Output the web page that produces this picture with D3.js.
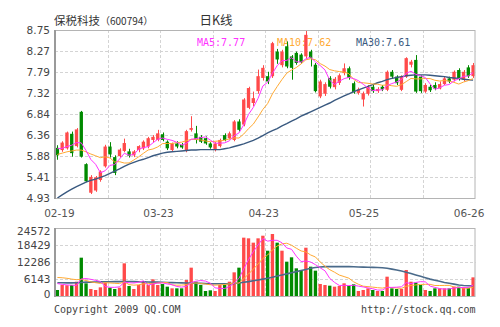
<!DOCTYPE html>
<html><head><meta charset="utf-8">
<script src="https://cdn.jsdelivr.net/npm/d3@7"></script>
<style>body{margin:0;background:#fff}svg{display:block}</style>
</head><body><svg id="c" width="500" height="327"></svg>
<script>
const dates = ["02-19","02-20","02-23","02-24","02-25","02-26","02-27",
"03-02","03-03","03-04","03-05","03-06","03-09","03-10","03-11","03-12","03-13","03-16","03-17","03-18","03-19","03-20",
"03-23","03-24","03-25","03-26","03-27","03-30","03-31",
"04-01","04-02","04-03","04-07","04-08","04-09","04-10","04-13","04-14","04-15","04-16","04-17","04-20","04-21","04-22","04-23","04-24","04-27","04-28","04-29","04-30",
"05-04","05-05","05-06","05-07","05-08","05-11","05-12","05-13","05-14","05-15","05-18","05-19","05-20","05-21","05-22","05-25","05-26","05-27",
"06-01","06-02","06-03","06-04","06-05","06-08","06-09","06-10","06-11","06-12","06-15","06-16","06-17","06-18","06-19","06-22","06-23","06-24","06-25","06-26"];
const xLabels = ["02-19","03-23","04-23","05-25","06-26"];
const open  = [6.07,6.02,6.06,6.39,6.11,6.89,5.70,5.05,5.10,5.34,5.65,6.10,5.86,5.88,6.00,5.99,5.90,6.02,6.06,6.10,6.25,6.25,6.38,6.21,6.02,6.17,6.14,6.00,6.48,6.40,6.32,6.29,6.17,6.02,6.11,6.36,6.29,6.25,6.67,6.60,6.98,7.09,7.36,7.66,7.70,7.70,8.26,7.95,8.38,8.15,8.23,8.19,8.15,8.26,7.96,7.24,7.30,7.66,7.45,7.55,7.77,7.88,7.54,7.32,7.17,7.30,7.46,7.36,7.46,7.39,7.80,7.69,7.39,7.69,7.96,8.07,7.69,7.35,7.46,7.50,7.42,7.52,7.65,7.62,7.84,7.62,7.90,7.70];
const high  = [6.13,6.22,6.44,6.44,6.52,6.91,5.72,5.45,5.43,5.56,6.14,6.20,5.90,6.06,6.28,6.05,6.02,6.13,6.24,6.32,6.36,6.48,6.42,6.24,6.19,6.22,6.18,6.48,6.79,6.57,6.36,6.33,6.20,6.20,6.28,6.40,6.44,6.70,6.72,7.20,7.46,7.35,7.85,7.95,7.80,8.48,8.32,8.30,8.49,8.18,8.26,8.22,8.75,8.30,8.00,7.62,7.56,7.70,7.68,7.76,7.99,7.92,7.58,7.44,7.35,7.50,7.50,7.45,7.50,7.83,7.84,7.72,7.72,8.13,8.07,8.18,7.72,7.54,7.50,7.56,7.58,7.69,7.69,7.83,7.88,7.84,7.95,8.00];
const low   = [5.80,5.98,6.03,5.87,6.08,5.85,5.29,5.02,5.07,5.30,5.62,5.85,5.45,5.85,5.97,5.85,5.86,5.97,6.02,6.06,6.20,6.22,6.22,6.02,5.99,6.06,6.05,5.97,6.44,6.17,6.18,6.14,6.05,5.99,6.08,6.22,6.26,6.22,6.44,6.56,6.95,7.02,7.30,7.60,7.52,7.66,7.98,7.90,7.88,7.62,7.96,7.98,8.10,7.92,7.33,7.20,7.25,7.42,7.40,7.50,7.72,7.62,7.30,7.28,7.01,7.26,7.32,7.32,7.36,7.36,7.64,7.50,7.36,7.66,7.90,7.32,7.32,7.32,7.34,7.38,7.40,7.50,7.54,7.58,7.60,7.58,7.66,7.66];
const close = [5.90,6.19,6.42,5.95,6.49,5.87,5.31,5.41,5.40,5.53,6.10,5.92,5.50,6.03,6.18,5.89,5.99,6.11,6.21,6.29,6.32,6.40,6.25,6.06,6.17,6.10,6.08,6.45,6.52,6.25,6.21,6.17,6.08,6.17,6.25,6.25,6.40,6.67,6.48,7.17,7.43,7.20,7.70,7.89,7.58,8.45,8.08,8.26,7.92,7.89,8.00,8.02,8.64,8.11,7.36,7.58,7.52,7.46,7.64,7.72,7.88,7.66,7.33,7.40,7.31,7.46,7.36,7.41,7.40,7.80,7.69,7.54,7.69,8.11,8.03,7.35,7.36,7.50,7.38,7.42,7.52,7.65,7.58,7.80,7.65,7.80,7.70,7.95];
const volume = [2170,3970,3900,4000,5170,13850,4580,2530,2170,3130,4820,3010,2530,3010,11800,3610,2530,3970,5420,3970,6020,3970,4330,3370,2770,2770,2770,5780,10240,5170,3970,1810,2050,1810,3970,3970,5170,8550,10240,21080,20840,19270,20840,21790,16370,22400,19270,16370,12400,13980,10000,9400,17450,10600,9160,4340,3970,3730,3370,3610,4580,3610,4220,1810,2170,2770,2170,1810,1810,6980,2770,2530,2530,9400,5170,4820,3970,2170,1810,2770,2770,2770,2770,3370,3370,3130,3000,6740];
// moving-average values read from the chart where earlier data are not shown
const ma5Head = [6.05,6.06,6.10,6.13];
const ma10Head = [5.92,5.95,5.98,6.00,6.02,6.02,5.98,5.93,5.89];
const ma30 = [4.93,5.00,5.07,5.13,5.19,5.24,5.29,5.33,5.36,5.40,5.44,5.49,5.54,5.59,5.65,5.70,5.74,5.78,5.81,5.85,5.89,5.92,5.95,5.97,5.98,5.99,6.00,6.01,6.02,6.02,6.03,6.03,6.03,6.03,6.03,6.05,6.07,6.10,6.13,6.16,6.20,6.24,6.29,6.35,6.41,6.46,6.51,6.57,6.62,6.68,6.73,6.79,6.84,6.89,6.94,6.99,7.04,7.09,7.15,7.20,7.25,7.30,7.35,7.39,7.43,7.47,7.51,7.55,7.58,7.62,7.65,7.67,7.69,7.71,7.72,7.73,7.73,7.73,7.72,7.71,7.70,7.69,7.67,7.66,7.65,7.63,7.62,7.61];
const volMa5Head = [4500,4200,4000,3900];
const volMa10Head = [6700,6600,6400,6100,5900,6000,5600,5100,4800];
const volMa30 = [4800,4800,4750,4750,4800,4900,5000,5000,5050,5100,5150,5150,5200,5200,5250,5250,5200,5150,5100,5050,5000,5000,4950,4900,4850,4800,4750,4700,4650,4600,4550,4500,4450,4400,4400,4400,4450,4550,4700,4950,5200,5500,5800,6100,6400,6800,7200,7600,8000,8400,8800,9200,9600,10000,10300,10500,10600,10600,10600,10600,10600,10600,10550,10500,10450,10400,10350,10300,10200,10000,9700,9400,9000,8600,8100,7600,7100,6600,6100,5700,5300,4900,4600,4300,4000,3800,3700,3600];
const priceTicks = [4.93,5.41,5.88,6.36,6.84,7.32,7.79,8.27,8.75];
const volTicks = [0,6143,12286,18429,24572];
const legend = [{t:"MA5:7.77",c:"#ff33ff"},{t:"MA10:7.62",c:"#ffaa33"},{t:"MA30:7.61",c:"#3a5a80"}];

function movingAvg(arr, n, head){
  return arr.map((v,i)=> i < n-1 ? head[i] : d3.mean(arr.slice(i-n+1,i+1)));
}
const ma5 = movingAvg(close,5,ma5Head), ma10 = movingAvg(close,10,ma10Head);
const vma5 = movingAvg(volume,5,volMa5Head), vma10 = movingAvg(volume,10,volMa10Head);

const n = close.length;
const L=55, R=475.5, pT=30, pB=198, vT=228, vB=296;
const RED="#ff4a4a", GREEN="#008a00", GRID="#d4d4d4", FRAME="#b4b4b4";
const svg = d3.select("#c");
const x = d3.scaleBand().domain(d3.range(n)).range([L,R]).paddingInner(0.3).paddingOuter(0.15);
const cx = i => x(i)+x.bandwidth()/2;
const gx = d3.scaleLinear().domain([0,8]).range([L,R]);
const y = d3.scaleLinear().domain([4.93,8.75]).range([pB,pT]);
const yv = d3.scaleLinear().domain([0,24572]).range([vB,vT]);
const sans = "'DejaVu Sans', Verdana, sans-serif";
const mono = "'DejaVu Sans Mono', 'Liberation Mono', monospace";
const cjk = "'Noto Sans CJK SC', sans-serif";

// title
const t = svg.append("text").attr("x",54).attr("y",25).attr("fill","#333").attr("font-family",cjk);
t.append("tspan").attr("font-size",11.5).text("保税科技");
t.append("tspan").attr("font-size",10).text("（600794）");
svg.append("text").attr("x",216).attr("y",25).attr("text-anchor","middle").attr("font-family",cjk)
  .attr("font-size",12.5).attr("fill","#333").text("日K线");

function grid(top,bottom,ticks,scale){
  const g = svg.append("g").attr("stroke",GRID).attr("stroke-dasharray","3,2").attr("stroke-width",1);
  g.selectAll("line.h").data(ticks.slice(1,-1)).join("line")
    .attr("x1",L).attr("x2",R).attr("y1",d=>Math.round(scale(d))+0.5).attr("y2",d=>Math.round(scale(d))+0.5);
  g.selectAll("line.v").data(d3.range(1,8)).join("line")
    .attr("y1",top).attr("y2",bottom).attr("x1",d=>Math.round(gx(d))+0.5).attr("x2",d=>Math.round(gx(d))+0.5);
}
grid(pT,pB,priceTicks,y);
grid(vT,vB,volTicks,yv);

// legend
svg.selectAll("text.lg").data(legend).join("text")
  .attr("x",(d,i)=>[197,277,356][i]).attr("y",45.5).attr("font-family",mono).attr("font-size",10)
  .attr("fill",d=>d.c).text(d=>d.t);

// candles
const idx = d3.range(n);
const up = i => close[i] >= open[i];
const cg = svg.append("g");
cg.selectAll("line").data(idx).join("line")
  .attr("x1",i=>Math.round(cx(i))+0.5).attr("x2",i=>Math.round(cx(i))+0.5)
  .attr("y1",i=>y(high[i])).attr("y2",i=>y(low[i]))
  .attr("stroke",i=>up(i)?RED:GREEN).attr("stroke-width",1);
cg.selectAll("rect").data(idx).join("rect")
  .attr("x",i=>x(i)).attr("width",x.bandwidth())
  .attr("y",i=>y(Math.max(open[i],close[i])))
  .attr("height",i=>Math.max(1,Math.abs(y(open[i])-y(close[i]))))
  .attr("fill",i=>up(i)?RED:GREEN);

// price MA lines
svg.append("clipPath").attr("id","cp").append("rect").attr("x",L).attr("y",pT).attr("width",R-L).attr("height",pB-pT);
const pline = d3.line().x((d,i)=>cx(i)).y(d=>y(d));
const pg = svg.append("g").attr("clip-path","url(#cp)").attr("fill","none");
[[ma30,"#3a5a80",1.4],[ma10,"#ffaa33",1],[ma5,"#ff33ff",1]].forEach(([d,c,w])=>
  pg.append("path").attr("d",pline(d)).attr("stroke",c).attr("stroke-width",w));

// volume bars
svg.append("g").selectAll("rect").data(idx).join("rect")
  .attr("x",i=>x(i)).attr("width",x.bandwidth())
  .attr("y",i=>yv(volume[i])).attr("height",i=>vB-yv(volume[i]))
  .attr("fill",i=>up(i)?RED:GREEN);
const vline = d3.line().x((d,i)=>cx(i)).y(d=>yv(d));
const vg = svg.append("g").attr("fill","none");
[[volMa30,"#4a6a8a",1.6],[vma10,"#ffaa33",1],[vma5,"#ff33ff",1]].forEach(([d,c,w])=>
  vg.append("path").attr("d",vline(d)).attr("stroke",c).attr("stroke-width",w));

// frames
[[pT,pB],[vT,vB]].forEach(([a,b])=>{
  svg.append("rect").attr("x",L+0.5).attr("y",a+0.5).attr("width",R-L-1).attr("height",b-a)
    .attr("fill","none").attr("stroke",FRAME);
  svg.append("line").attr("x1",L).attr("x2",L).attr("y1",a).attr("y2",b+1).attr("stroke","#9a9a9a").attr("stroke-width",2);
});

// axis labels
svg.selectAll("text.py").data(priceTicks).join("text")
  .attr("x",50).attr("y",d=>y(d)+4).attr("text-anchor","end")
  .attr("font-family",sans).attr("font-size",10.5).attr("fill","#444").text(d=>d.toFixed(2));
svg.selectAll("text.vy").data(volTicks).join("text")
  .attr("x",50.5).attr("y",d=>Math.min(vB-2,Math.max(vT+3,yv(d)))+4).attr("text-anchor","end")
  .attr("font-family",sans).attr("font-size",10.5).attr("fill","#444").text(d=>d);
svg.selectAll("text.xl").data(xLabels).join("text")
  .attr("x",d=>cx(dates.indexOf(d))-4+ (d===xLabels[0]?6:0)).attr("y",217).attr("text-anchor","middle")
  .attr("font-family",sans).attr("font-size",10.5).attr("fill","#555").text(d=>d);

// footer
svg.append("text").attr("x",54).attr("y",313).attr("font-family",mono).attr("font-size",10)
  .attr("fill","#444").text("Copyright 2009 QQ.COM");
svg.append("text").attr("x",R).attr("y",313).attr("text-anchor","end").attr("font-family",mono).attr("font-size",10)
  .attr("fill","#444").text("http://stock.qq.com");
</script></body></html>
